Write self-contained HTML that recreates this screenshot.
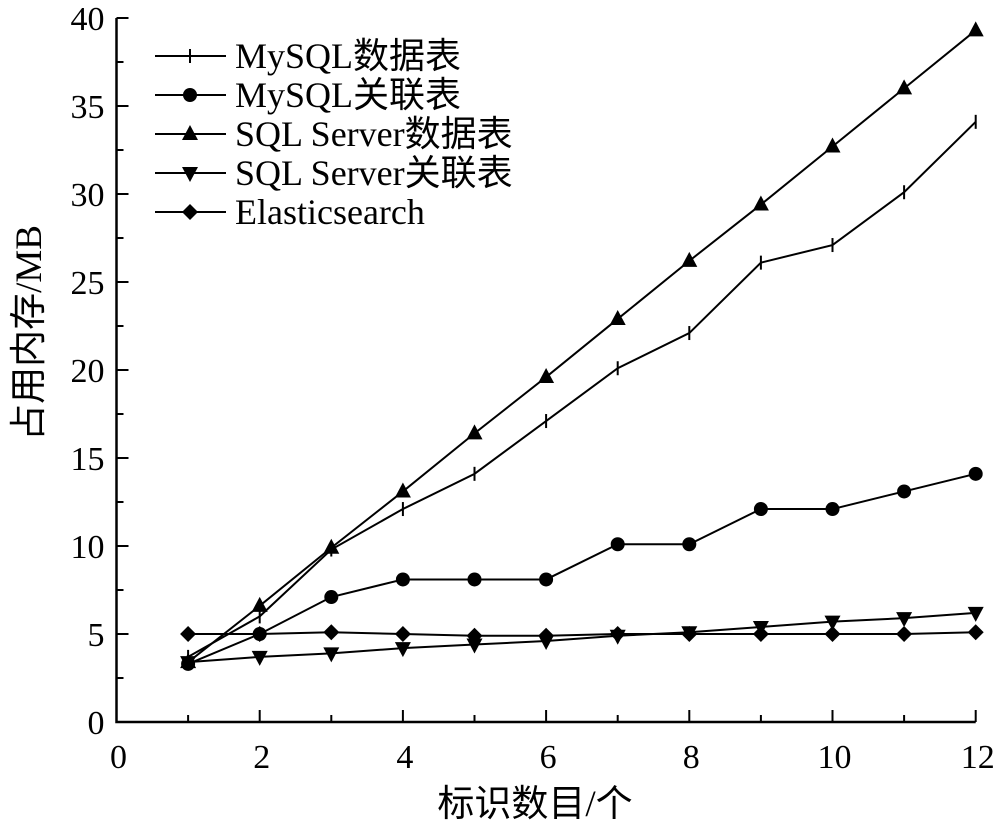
<!DOCTYPE html>
<html><head><meta charset="utf-8"><style>
body{margin:0;background:#fff}
svg text{font-family:"Liberation Serif","Noto Sans CJK SC",serif;fill:#000}
</style></head><body>
<svg id="chart" width="1000" height="829" xmlns="http://www.w3.org/2000/svg"></svg>
<script>
const xValues=[1,2,3,4,5,6,7,8,9,10,11,12];
const mysqlTable=[3.7,6.0,9.8,12.1,14.1,17.1,20.1,22.1,26.1,27.1,30.1,34.1];
const mysqlJoin=[3.3,5.0,7.1,8.1,8.1,8.1,10.1,10.1,12.1,12.1,13.1,14.1];
const sqlServerTable=[3.4,6.6,9.9,13.1,16.4,19.6,22.9,26.2,29.4,32.7,36.0,39.3];
const sqlServerJoin=[3.4,3.7,3.9,4.2,4.4,4.6,4.9,5.1,5.4,5.7,5.9,6.2];
const elastic=[5.0,5.0,5.1,5.0,4.9,4.9,5.0,5.0,5.0,5.0,5.0,5.1];
const seriesNames=["MySQL数据表","MySQL关联表","SQL Server数据表","SQL Server关联表","Elasticsearch"];
const xTicks=[0,2,4,6,8,10,12];
const yTicks=[0,5,10,15,20,25,30,35,40];
const NS="http://www.w3.org/2000/svg";
const svg=document.getElementById('chart');
const X=v=>116.5+v*71.6;
const Y=v=>722-v*17.6;
function mk(t,a,p){const e=document.createElementNS(NS,t);for(const k in a)e.setAttribute(k,a[k]);(p||svg).appendChild(e);return e;}
let ax=mk('path',{d:`M${X(0)} ${Y(40)} V${Y(0)} H${X(12)}`,fill:'none',stroke:'#000','stroke-width':2.5});


for(let v=0;v<=40;v+=2.5){const major=v%5===0;const t=mk('line',{x1:X(0),x2:X(0)+(major?12:7),y1:Y(v),y2:Y(v),stroke:'#000','stroke-width':2});

}
for(let v=0;v<=12;v++){const major=v%2===0;const t=mk('line',{x1:X(v),x2:X(v),y1:Y(0),y2:Y(0)-(major?12:7),stroke:'#000','stroke-width':2});

}
yTicks.forEach(v=>{const t=mk('text',{x:X(0)-12,y:Y(v)+12,'text-anchor':'end','font-size':34});t.textContent=v;

});
xTicks.forEach(v=>{const t=mk('text',{x:X(v)+2,y:768,'text-anchor':'middle','font-size':34});t.textContent=v;

});
let xt=mk('text',{x:535,y:816,'text-anchor':'middle','font-size':37});xt.textContent='标识数目/个';


let yt=mk('text',{x:0,y:0,'text-anchor':'middle','font-size':37,transform:'translate(41,333) rotate(-90)'});yt.textContent='占用内存/MB';


function marker(type,x,y,g){
 if(type==='plus')return mk('line',{x1:x,x2:x,y1:y-7,y2:y+7,stroke:'#000','stroke-width':2},g);
 if(type==='circle')return mk('circle',{cx:x,cy:y,r:7,fill:'#000'},g);
 if(type==='up')return mk('path',{d:`M${x} ${y-9}L${x+8} ${y+6}L${x-8} ${y+6}Z`,fill:'#000'},g);
 if(type==='down')return mk('path',{d:`M${x} ${y+9}L${x+8} ${y-6}L${x-8} ${y-6}Z`,fill:'#000'},g);
 return mk('path',{d:`M${x} ${y-8}L${x+8} ${y}L${x} ${y+8}L${x-8} ${y}Z`,fill:'#000'},g);
}
const series=[mysqlTable,mysqlJoin,sqlServerTable,sqlServerJoin,elastic];
const types=['plus','circle','up','down','diamond'];
const snames=['series-mysql-table','series-mysql-join','series-sqlserver-table','series-sqlserver-join','series-elasticsearch'];
series.forEach((s,i)=>{
 const g=mk('g',{});
 
 
 mk('polyline',{points:s.map((v,j)=>X(xValues[j])+','+Y(v)).join(' '),fill:'none',stroke:'#000','stroke-width':2},g);
 s.forEach((v,j)=>{const m=marker(types[i],X(xValues[j]),Y(v),g);
 
 });
});
const lg=mk('g',{});


seriesNames.forEach((n,i)=>{
 const y=56+i*39;
 const g=mk('g',{},lg);
 
 
 mk('line',{x1:155,x2:226,y1:y,y2:y,stroke:'#000','stroke-width':2},g);
 marker(types[i],190,y,g);
 const t=mk('text',{x:235,y:y+12,'font-size':36},g);t.textContent=n;
});
</script>
</body></html>
